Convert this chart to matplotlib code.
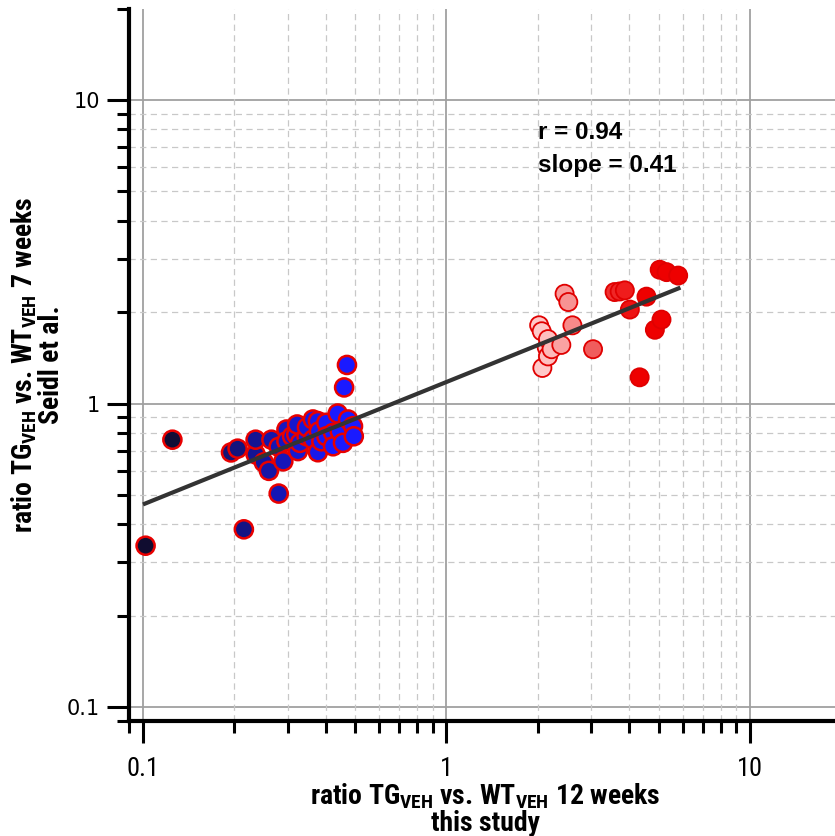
import numpy as np
import matplotlib
matplotlib.use("Agg")
import matplotlib.pyplot as plt
from matplotlib import font_manager
from matplotlib.colors import LinearSegmentedColormap, LogNorm

# ── Data ───────────────────────────────────────────────────────────────────────
# low-ratio group (blue fill, red edge)
blue_x = [0.102, 0.125, 0.195, 0.205, 0.215, 0.235, 0.235, 0.25, 0.26, 0.265,
          0.28, 0.28, 0.29, 0.297, 0.297, 0.31, 0.32, 0.322, 0.324, 0.329,
          0.346, 0.347, 0.363, 0.363, 0.377, 0.377, 0.38, 0.387, 0.402, 0.402,
          0.423, 0.423, 0.438, 0.445, 0.456, 0.46, 0.47, 0.474, 0.492, 0.495]
blue_y = [0.34, 0.76, 0.69, 0.71, 0.385, 0.68, 0.76, 0.64, 0.60, 0.76,
          0.505, 0.72, 0.645, 0.821, 0.751, 0.78, 0.79, 0.853, 0.697, 0.742,
          0.78, 0.835, 0.886, 0.761, 0.875, 0.691, 0.81, 0.751, 0.864, 0.78,
          0.80, 0.723, 0.927, 0.81, 0.742, 1.13, 1.34, 0.886, 0.842, 0.78]

# high-ratio group (pink → red fill)
red_x = [2.02, 2.06, 2.07, 2.14, 2.16, 2.16, 2.22, 2.39, 2.45, 2.52,
         2.60, 3.04, 3.58, 3.72, 3.87, 4.02, 4.33, 4.56, 4.86, 5.04,
         5.11, 5.31, 5.80]
red_y = [1.81, 1.73, 1.31, 1.53, 1.63, 1.43, 1.51, 1.56, 2.30, 2.16,
         1.81, 1.51, 2.33, 2.34, 2.36, 2.04, 1.22, 2.25, 1.75, 2.76,
         1.89, 2.71, 2.64]

# regression line end points
fit_x = [0.1, 5.9]
fit_y = [0.465, 2.41]

major_ticks = [0.1, 1, 10]
major_labels = ["0.1", "1", "10"]
minor_ticks = [0.09, 0.2, 0.3, 0.4, 0.5, 0.6, 0.7, 0.8, 0.9,
               2, 3, 4, 5, 6, 7, 8, 9, 20]
grid_minor = [0.2, 0.3, 0.4, 0.5, 0.6, 0.7, 0.8, 0.9, 2, 3, 4, 5, 6, 7, 8, 9]

stats_text = ["r = 0.94", "slope = 0.41"]


# ── Fonts: look for a condensed sans for the axis titles ──────────────────────
def _narrow_props():
    for fam in ("Liberation Sans Narrow", "Roboto Condensed", "DejaVu Sans"):
        fp = font_manager.FontProperties(family=fam, weight="bold", stretch="condensed")
        try:
            path = font_manager.findfont(fp, fallback_to_default=False)
        except ValueError:
            continue
        low = path.lower()
        if "narrow" in low or "condensed" in low:
            return fam, "condensed", True
    return "Liberation Sans", "normal", False

NARROW, NARROW_STRETCH, HAVE_NARROW = _narrow_props()
SANS = "Liberation Sans"
LABEL_SIZE = 20 if HAVE_NARROW else 17

# ── Figure ─────────────────────────────────────────────────────────────────────
fig = plt.figure(figsize=(8.35, 8.36), dpi=100)
ax = fig.add_axes([0.1546, 0.1377, 0.8530, 0.8519])
ax.set_xscale("log")
ax.set_yscale("log")
ax.set_xlim(0.09, 20)
ax.set_ylim(0.09, 20)

# grid
for v in major_ticks:
    ax.axvline(v, color="#a0a0a0", lw=1.3, zorder=0)
    ax.axhline(v, color="#a0a0a0", lw=1.3, zorder=0)
for v in grid_minor:
    ax.axvline(v, color="#c8c8c8", lw=0.9, ls=(0, (5, 3.5)), zorder=0)
    ax.axhline(v, color="#c8c8c8", lw=0.9, ls=(0, (5, 3.5)), zorder=0)

# scatter
blue_cmap = LinearSegmentedColormap.from_list("navy_blue", ["#100c30", "#14148a", "#1a1aff"])
red_cmap = LinearSegmentedColormap.from_list("pink_red", ["#ffc8c8", "#f06060", "#ee0000"])

ax.scatter(blue_x, blue_y, s=170, c=blue_x, cmap=blue_cmap,
           norm=LogNorm(0.12, 0.42), edgecolors="#e80000", linewidths=1.8, zorder=3)
ax.scatter(red_x, red_y, s=170, c=red_x, cmap=red_cmap,
           norm=LogNorm(2.1, 4.3), edgecolors="#e00000", linewidths=1.3, zorder=3)

# regression line
ax.plot(fit_x, fit_y, color="#333333", lw=3.0, solid_capstyle="butt", zorder=4)

# stats
ax.text(0.574, 0.8255, stats_text[0], transform=ax.transAxes, fontsize=17.5,
        fontweight="bold", family=SANS, va="center", ha="left", zorder=5)
ax.text(0.574, 0.7805, stats_text[1], transform=ax.transAxes, fontsize=17.5,
        fontweight="bold", family=SANS, va="center", ha="left", zorder=5)

# spines / ticks
for side in ("top", "right"):
    ax.spines[side].set_visible(False)
for side in ("left", "bottom"):
    ax.spines[side].set_linewidth(3.0)

ax.set_xticks(major_ticks)
ax.set_xticklabels(major_labels)
ax.set_yticks(major_ticks)
ax.set_yticklabels(major_labels)
ax.set_xticks(minor_ticks, minor=True)
ax.set_yticks(minor_ticks, minor=True)
ax.xaxis.set_minor_formatter(plt.NullFormatter())
ax.yaxis.set_minor_formatter(plt.NullFormatter())

ax.tick_params(which="major", length=16, width=2.2, direction="out")
ax.tick_params(which="minor", length=8.5, width=2.2, direction="out")
ax.tick_params(axis="x", which="major", pad=10, labelsize=19)
ax.tick_params(axis="y", which="major", pad=5, labelsize=15)
for lab in ax.get_xticklabels():
    lab.set_family(NARROW)
    lab.set_stretch(NARROW_STRETCH)
for lab in ax.get_yticklabels():
    lab.set_family("DejaVu Sans")

# axis labels
label_kw = dict(fontsize=LABEL_SIZE, fontweight="bold", family=NARROW,
                fontstretch=NARROW_STRETCH, linespacing=0.95)
ax.set_xlabel("ratio TG$_\\mathregular{VEH}$ vs. WT$_\\mathregular{VEH}$ 12 weeks\nthis study",
              **label_kw)
ax.xaxis.set_label_coords(0.5, -0.085)
ax.set_ylabel("ratio TG$_\\mathregular{VEH}$ vs. WT$_\\mathregular{VEH}$ 7 weeks\nSeidl et al.",
              **label_kw)
ax.yaxis.set_label_coords(-0.090, 0.5)

fig.savefig("out.png", dpi=100)
